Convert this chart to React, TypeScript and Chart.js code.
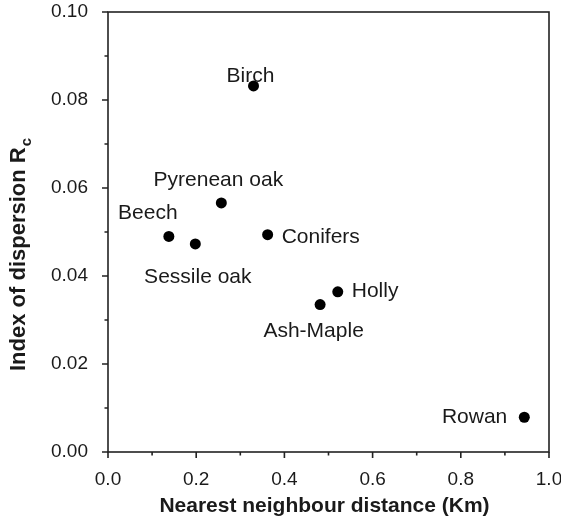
import React, { useEffect, useRef } from "react";
import { Chart, registerables } from "chart.js";

Chart.register(...registerables);

const species = ["Birch", "Pyrenean oak", "Beech", "Sessile oak", "Conifers", "Holly", "Ash-Maple", "Rowan"];
const nearestDistance = [0.33, 0.257, 0.138, 0.198, 0.362, 0.521, 0.481, 0.944];
const dispersionIndex = [0.0832, 0.0566, 0.049, 0.0473, 0.0494, 0.0364, 0.0335, 0.0079];

const xMajorTicks = [0, 0.2, 0.4, 0.6, 0.8, 1.0];
const xMinorTicks = [0.1, 0.3, 0.5, 0.7, 0.9];
const yMajorTicks = [0, 0.02, 0.04, 0.06, 0.08, 0.1];
const yMinorTicks = [0.01, 0.03, 0.05, 0.07, 0.09];

const xTitle = "Nearest neighbour distance (Km)";
const yTitleMain = "Index of dispersion R";
const yTitleSub = "c";

// label placement (style): [dx, dy, align]
const labelPlacement: [number, number, CanvasTextAlign][] = [
  [-3, -4, "center"],
  [-3, -17, "center"],
  [-21, -17, "center"],
  [2.5, 39, "center"],
  [14, 8, "left"],
  [14, 5.5, "left"],
  [-6.5, 32, "center"],
  [-17, 6, "right"],
];

const FONT = "'Liberation Sans', Arial, Helvetica, sans-serif";
const INK = "#1a1a1a";

const decorPlugin = {
  id: "decor",
  afterDraw(chart: any) {
    const ctx = chart.ctx as CanvasRenderingContext2D;
    const area = chart.chartArea;
    const xs = chart.scales.x;
    const ys = chart.scales.y;
    ctx.save();
    ctx.strokeStyle = "#222";
    ctx.lineWidth = 1.6;
    ctx.strokeRect(area.left, area.top, area.right - area.left, area.bottom - area.top);
    ctx.beginPath();
    for (const v of xMajorTicks) {
      const px = xs.getPixelForValue(v);
      ctx.moveTo(px, area.bottom);
      ctx.lineTo(px, area.bottom + 6);
    }
    for (const v of xMinorTicks) {
      const px = xs.getPixelForValue(v);
      ctx.moveTo(px, area.bottom);
      ctx.lineTo(px, area.bottom + 3.5);
    }
    for (const v of yMajorTicks) {
      const py = ys.getPixelForValue(v);
      ctx.moveTo(area.left, py);
      ctx.lineTo(area.left - 6, py);
    }
    for (const v of yMinorTicks) {
      const py = ys.getPixelForValue(v);
      ctx.moveTo(area.left, py);
      ctx.lineTo(area.left - 3.5, py);
    }
    ctx.stroke();

    // point labels
    const meta = chart.getDatasetMeta(0);
    ctx.fillStyle = INK;
    ctx.font = `21px ${FONT}`;
    ctx.textBaseline = "alphabetic";
    meta.data.forEach((el: any, i: number) => {
      const [dx, dy, align] = labelPlacement[i];
      ctx.textAlign = align;
      ctx.fillText(species[i], el.x + dx, el.y + dy);
    });

    // x title
    ctx.font = `bold 21px ${FONT}`;
    ctx.textAlign = "center";
    ctx.fillText(xTitle, (area.left + area.right) / 2 - 4, 512);

    // y title with subscript
    ctx.save();
    ctx.translate(25, 371);
    ctx.rotate(-Math.PI / 2);
    ctx.textAlign = "left";
    ctx.font = `bold 22px ${FONT}`;
    ctx.fillText(yTitleMain, 0, 0);
    const w = ctx.measureText(yTitleMain).width;
    ctx.font = `bold 15px ${FONT}`;
    ctx.fillText(yTitleSub, w + 1, 6);
    ctx.restore();

    ctx.restore();
  },
};

export default function App() {
  const ref = useRef<HTMLCanvasElement | null>(null);
  useEffect(() => {
    document.body.style.margin = "0";
    const canvas = ref.current;
    if (!canvas) return;
    const chart = new Chart(canvas, {
      type: "scatter",
      data: {
        datasets: [
          {
            data: nearestDistance.map((x, i) => ({ x, y: dispersionIndex[i] })),
            backgroundColor: "#000",
            borderColor: "#000",
            pointRadius: 5.5,
            pointHoverRadius: 5.5,
            borderWidth: 0,
          },
        ],
      },
      options: {
        responsive: false,
        animation: false,
        devicePixelRatio: 1,
        layout: { padding: { top: 12, right: 12, left: 0, bottom: 0 } },
        plugins: { legend: { display: false }, tooltip: { enabled: false } },
        scales: {
          x: {
            type: "linear",
            min: 0,
            max: 1,
            afterFit(s: any) {
              s.height = 72;
              s.paddingLeft = 0;
              s.paddingRight = 0;
            },
            afterBuildTicks(s: any) {
              s.ticks = xMajorTicks.map((v) => ({ value: v }));
            },
            grid: { display: true, drawOnChartArea: false, drawTicks: false },
            border: { display: false },
            ticks: {
              padding: 16,
              color: INK,
              font: { family: FONT, size: 19 },
              maxRotation: 0,
              callback: (v: any) => Number(v).toFixed(1),
            },
          },
          y: {
            type: "linear",
            min: 0,
            max: 0.1,
            afterFit(s: any) {
              s.width = 108;
              s.paddingTop = 0;
              s.paddingBottom = 0;
            },
            afterBuildTicks(s: any) {
              s.ticks = yMajorTicks.map((v) => ({ value: v }));
            },
            grid: { display: true, drawOnChartArea: false, drawTicks: false },
            border: { display: false },
            ticks: {
              padding: 20,
              color: INK,
              font: { family: FONT, size: 19 },
              callback: (v: any) => Number(v).toFixed(2),
            },
          },
        },
      },
      plugins: [decorPlugin],
    });
    return () => chart.destroy();
  }, []);
  return (
    <div style={{ width: 561, height: 524 }}>
      <canvas ref={ref} width={561} height={524} style={{ display: "block" }} />
    </div>
  );
}
